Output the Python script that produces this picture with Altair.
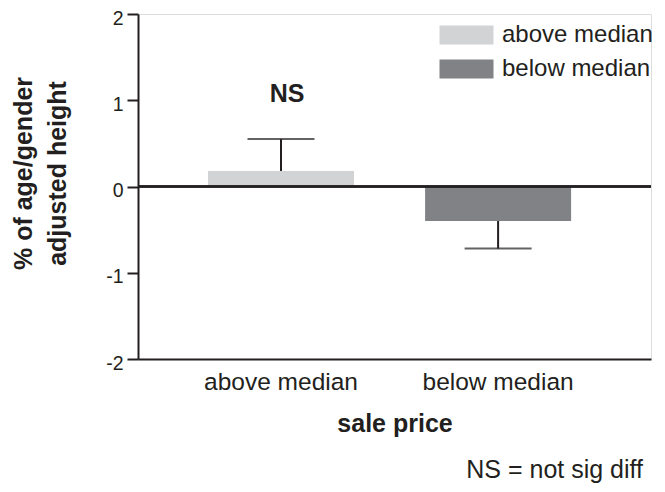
import altair as alt
import pandas as pd

categories = ["above median", "below median"]
means = [0.18, -0.40]
err_ends = [0.55, -0.72]
sig_labels = ["NS", ""]
sig_y = [0.98, 0.98]
y_ticks = [-2, -1, 0, 1, 2]
colors = ["#d1d3d4", "#808285"]
ink = "#231f20"
FONT = "Liberation Sans"

df = pd.DataFrame({
    "group": categories,
    "mean": means,
    "err": err_ends,
    "sig": sig_labels,
    "sig_y": sig_y,
})

x_scale = alt.Scale(paddingInner=0.327, paddingOuter=0.345, align=0.467)

x_enc = alt.X(
    "group:N",
    sort=categories,
    scale=x_scale,
    axis=alt.Axis(
        title="sale price",
        ticks=False,
        tickSize=0,
        labelAngle=0,
        labelFontSize=24.5,
        labelFont=FONT,
        labelColor=ink,
        labelPadding=11,
        domainColor=ink,
        domainWidth=2,
        titleFont=FONT,
        titleFontSize=25,
        titleFontWeight="bold",
        titleColor=ink,
        titleBaseline="top",
        titleY=52,
    ),
)

y_scale = alt.Scale(domain=[-2, 2], nice=False, zero=False)

bars = alt.Chart(df).mark_bar(size=146).encode(
    x=x_enc,
    y=alt.Y(
        "mean:Q",
        scale=y_scale,
        axis=alt.Axis(
            values=y_ticks,
            grid=False,
            labelExpr="datum.value + ''",
            title=["% of age/gender", "adjusted height"],
            titleFont=FONT,
            titleFontSize=25,
            titleFontWeight="bold",
            titleColor=ink,
            titleAngle=270,
            titleAlign="center",
            titleBaseline="top",
            titleLineHeight=34,
            titleX=-127,
            titleY=159,
            labelFont=FONT,
            labelFontSize=19.5,
            labelColor=ink,
            labelPadding=4,
            labelOffset=4,
            tickSize=11,
            tickWidth=2,
            tickColor=ink,
            domainColor=ink,
            domainWidth=2,
        ),
    ),
    color=alt.Color(
        "group:N",
        scale=alt.Scale(domain=categories, range=colors),
        legend=alt.Legend(
            title=None,
            orient="none",
            legendX=316.5,
            legendY=9,
            symbolType="M-2.842,-1L2.842,-1L2.842,1L-2.842,1Z",
            symbolSize=361,
            symbolStrokeWidth=0,
            symbolOpacity=1,
            labelFont=FONT,
            labelFontSize=24,
            labelColor=ink,
            labelOffset=23.5,
            rowPadding=10,
        ),
    ),
)

stems = alt.Chart(df).mark_rule(color=ink, strokeWidth=2).encode(
    x=alt.X("group:N", sort=categories),
    y="mean:Q",
    y2="err:Q",
)

caps = alt.Chart(df).mark_tick(color=ink, size=67, thickness=2).encode(
    x=alt.X("group:N", sort=categories),
    y="err:Q",
)

zero_line = alt.Chart(df).mark_rule(color=ink, strokeWidth=2.5).encode(
    y=alt.datum(0),
)

sig = alt.Chart(df).mark_text(
    font=FONT, fontSize=25, fontWeight="bold", color=ink, baseline="alphabetic", dx=6
).encode(
    x=alt.X("group:N", sort=categories),
    y="sig_y:Q",
    text="sig:N",
)

chart = alt.layer(bars, stems, caps, zero_line, sig).properties(
    width=513,
    height=345,
    autosize=alt.AutoSizeParams(type="none"),
    padding={"left": 130, "top": 6, "right": 6, "bottom": 125},
    title=alt.TitleParams(
        "NS = not sig diff",
        orient="bottom",
        anchor="end",
        frame="group",
        font=FONT,
        fontSize=25,
        fontWeight="normal",
        color=ink,
        dx=-8,
        offset=22,
    ),
).configure_view(stroke=None).configure(background="white")

chart.save("out.html", embed_options={"renderer": "svg", "actions": False})
